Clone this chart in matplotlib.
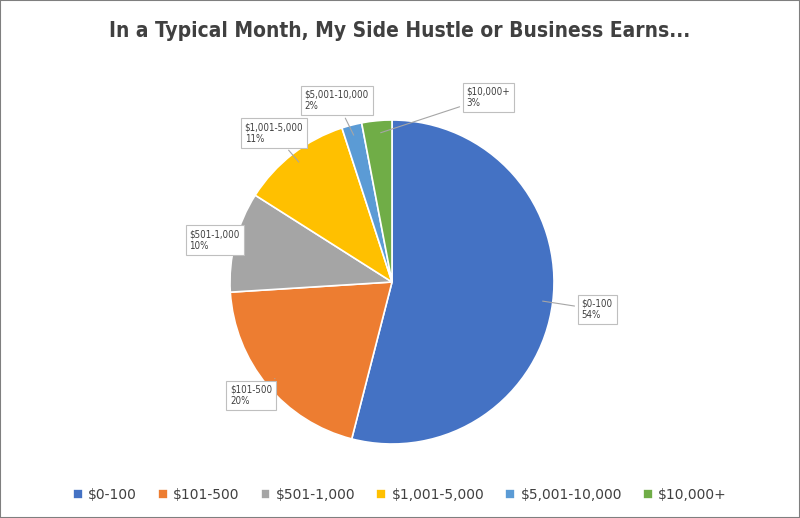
import matplotlib
matplotlib.use("Agg")
import matplotlib.pyplot as plt
import numpy as np

categories = ["$0-100", "$101-500", "$501-1,000", "$1,001-5,000", "$5,001-10,000", "$10,000+"]
values = [54, 20, 10, 11, 2, 3]
colors = ["#4472C4", "#ED7D31", "#A5A5A5", "#FFC000", "#5B9BD5", "#70AD47"]
label_pos = [(1.17, -0.17), (-1.0, -0.70), (-1.25, 0.26), (-0.91, 0.92), (-0.54, 1.12), (0.46, 1.14)]

fig = plt.figure(figsize=(8, 5.18), dpi=100)
fig.patches.append(plt.Rectangle((0, 0), 1, 1, transform=fig.transFigure, fill=False,
                                 edgecolor="#7f7f7f", linewidth=1.5))
cx, cy, r = 392, 236, 162
ax = fig.add_axes([(cx - r) / 800, (cy - r) / 518, 2 * r / 800, 2 * r / 518])
wedges, _ = ax.pie(values, colors=colors, startangle=90, counterclock=False,
                   wedgeprops=dict(edgecolor="white", linewidth=1.2))
ax.set_xlim(-1, 1); ax.set_ylim(-1, 1); ax.set_aspect("equal"); ax.axis("off")

total = sum(values)
ang = 90.0
for cat, v, pos in zip(categories, values, label_pos):
    mid = ang - v / total * 360 / 2
    ang -= v / total * 360
    th = np.deg2rad(mid)
    xy = (0.92 * np.cos(th), 0.92 * np.sin(th))
    ax.annotate(f"{cat}\n{round(v)}%", xy=xy, xytext=pos, ha="left", va="center",
                fontsize=7, color="#404040", fontstretch="condensed",
                bbox=dict(boxstyle="square,pad=0.4", fc="white", ec="#bfbfbf", lw=0.8),
                arrowprops=dict(arrowstyle="-", color="#a6a6a6", lw=0.8),
                annotation_clip=False)

fig.text(0.5, 0.94, "In a Typical Month, My Side Hustle or Business Earns...",
         ha="center", va="center", fontsize=15, fontweight="bold", color="#404040",
         family="DejaVu Sans", fontstretch="condensed")
fig.legend(wedges, categories, loc="center", bbox_to_anchor=(0.5, 0.044), ncol=6,
           frameon=False, fontsize=10, handlelength=0.7, handleheight=0.7,
           columnspacing=1.5, handletextpad=0.4, labelcolor="#404040")
fig.savefig("out.png", dpi=100)
